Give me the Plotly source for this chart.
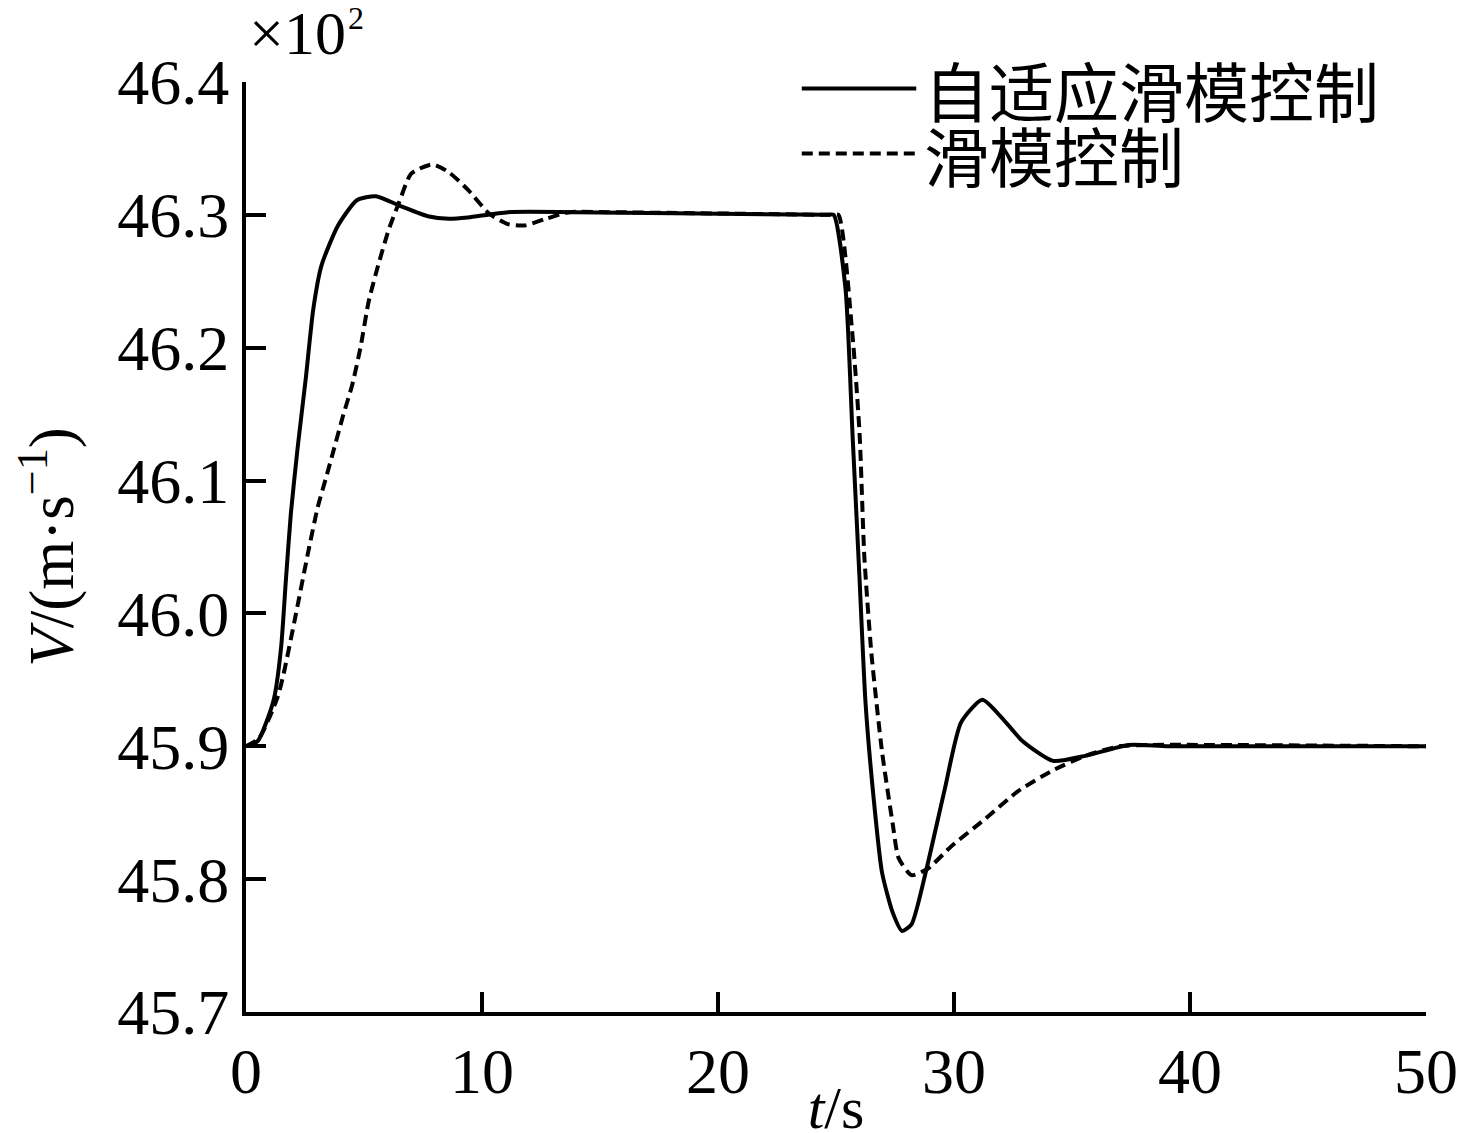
import plotly.graph_objects as go

# adaptive sliding mode control (solid)
t_asmc = [0, 0.5, 0.9, 1.2, 1.49, 1.69, 1.9, 2.19, 2.54, 2.85, 3.2, 3.9, 4.7, 5.5,
          6.5, 7.7, 8.6, 9.4, 11.1, 13.9, 24.6, 24.9, 25.4, 25.7, 26.0, 26.25, 26.6,
          26.95, 27.4, 27.8, 28.2, 28.8, 29.6, 30.3, 31.2, 32.0, 32.9, 34.2, 35.6, 37.4,
          39.1, 50]
v_asmc = [45.9, 45.904, 45.92, 45.937, 45.975, 46.025, 46.075, 46.125, 46.178,
          46.229, 46.262, 46.292, 46.311, 46.314, 46.307, 46.299, 46.297, 46.298, 46.302,
          46.302, 46.3, 46.3, 46.245, 46.135, 46.025, 45.933, 45.86, 45.805, 45.775,
          45.761, 45.766, 45.805, 45.867, 45.918, 45.935, 45.922, 45.904, 45.889, 45.893,
          45.901, 45.9, 45.9]

# sliding mode control (dashed)
t_smc = [0, 0.55, 1.34, 1.6, 2.12, 2.61, 3.04, 3.39, 3.73, 4.1, 4.5, 4.85, 5.2, 5.6,
         6.05, 6.5, 7.0, 7.9, 8.6, 9.4, 10.3, 11.1, 11.8, 12.7, 13.7, 15.4, 24.8, 25.1,
         25.7, 26.0, 26.2, 26.5, 26.95, 27.4, 27.65, 28.2, 28.9, 29.9, 31.3, 32.7, 34.2,
         35.6, 37.0, 38.4, 50]
v_smc = [45.9, 45.906, 45.937, 45.955, 46.0, 46.044, 46.08, 46.102, 46.124, 46.148, 46.172,
         46.2, 46.235, 46.262, 46.289, 46.31, 46.331, 46.338, 46.332, 46.319, 46.301,
         46.293, 46.292, 46.297, 46.302, 46.302, 46.3, 46.3, 46.209, 46.135, 46.043,
         45.97, 45.896, 45.842, 45.816, 45.803, 45.808, 45.825, 45.845, 45.866, 45.882,
         45.893, 45.9, 45.901, 45.9]

names = ["自适应滑模控制", "滑模控制"]
x_ticks = [0, 10, 20, 30, 40, 50]
y_ticks = [45.7, 45.8, 45.9, 46.0, 46.1, 46.2, 46.3, 46.4]

serif = "Liberation Serif"
cjk = "Noto Sans CJK SC"
dash_style = "11px,6px"

fig = go.Figure()
fig.add_trace(go.Scatter(x=t_smc, y=v_smc, mode="lines", name=names[1],
                         line=dict(color="black", width=4, dash=dash_style,
                                   shape="spline", smoothing=0.6)))
fig.add_trace(go.Scatter(x=t_asmc, y=v_asmc, mode="lines", name=names[0],
                         line=dict(color="black", width=4,
                                   shape="spline", smoothing=0.6)))

# legend drawn by hand so the line samples are long like the original
for i, (nm, dash) in enumerate(zip(names, ["solid", dash_style])):
    yp = 0.993 - i * 0.07
    fig.add_shape(type="line", xref="paper", yref="paper",
                  x0=0.471, x1=0.568, y0=yp, y1=yp,
                  line=dict(color="black", width=4, dash=dash))
    fig.add_annotation(xref="paper", yref="paper", x=0.573, y=yp, text=nm,
                       showarrow=False, xanchor="left", yanchor="middle",
                       font=dict(family=cjk, size=65, color="black"))

# axis multiplier ×10^2 above the y axis
fig.add_annotation(xref="paper", yref="paper", x=0.0, y=1.0, yshift=49, xshift=1,
                   text="×10", showarrow=False, xanchor="left",
                   yanchor="middle", font=dict(family=serif, size=62, color="black"))
fig.add_annotation(xref="paper", yref="paper", x=0.0, y=1.0, yshift=64, xshift=100,
                   text="2", showarrow=False, xanchor="left",
                   yanchor="middle", font=dict(family=serif, size=32, color="black"))

axis_common = dict(showline=True, linecolor="black", linewidth=4, ticks="inside",
                   ticklen=20, tickwidth=3.5, tickcolor="black", showgrid=False,
                   zeroline=False, mirror=False, automargin=False,
                   tickfont=dict(family=serif, size=64, color="black"))

fig.update_xaxes(range=[0, 50], tickvals=x_ticks, ticktext=[str(v) for v in x_ticks],
                 title=dict(text="<i>t</i>/s", standoff=0,
                            font=dict(family=serif, size=60, color="black")),
                 **axis_common)
fig.update_yaxes(range=[45.7, 46.4], tickvals=y_ticks,
                 ticktext=[f"{v:.1f}" for v in y_ticks],
                 title=dict(text="<i>V</i>/(m·s<sup>−1</sup>)", standoff=24,
                            font=dict(family=serif, size=63, color="black")),
                 **axis_common)

fig.update_layout(width=1469, height=1133, plot_bgcolor="white", paper_bgcolor="white",
                  margin=dict(l=238, r=51, t=74, b=129), showlegend=False)

fig.write_html("out.html")
